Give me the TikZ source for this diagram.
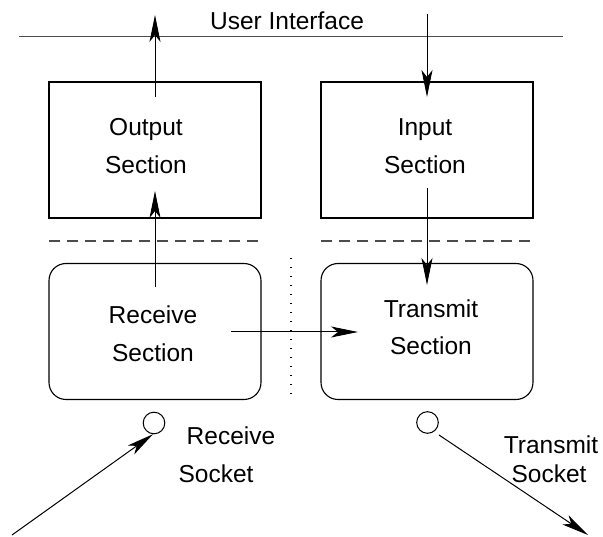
\documentclass[tikz,border=0pt]{standalone}
\usepackage{fontspec}
\setmainfont{Liberation Sans}
\usetikzlibrary{arrows.meta}

\begin{document}
\begin{tikzpicture}[x=1pt, y=-1pt,
  every node/.style={font=\fontsize{24.5}{29}\selectfont},
  label/.style={anchor=base, inner sep=0pt},
  sect/.style={draw, line width=1.1pt, minimum width=212pt, minimum height=136pt, inner sep=0pt},
  roundsect/.style={sect, rounded corners=17pt},
  sock/.style={circle, draw, line width=1pt, minimum size=21.6pt, inner sep=0pt},
  arr/.style={line width=1pt, -{Stealth[length=27pt, width=11pt, inset=7pt]}},
  sep/.style={draw=black!70, line width=1.5pt},
  dashsep/.style={sep, dash pattern=on 11pt off 7pt},
  dotsep/.style={line width=1.3pt, dash pattern=on 1.5pt off 7.5pt}
]
\useasboundingbox (0,0) rectangle (603,537);

% user interface boundary
\draw[sep] (19,36.7) -- (563,36.7);
\node[label] (ui) at (287,29.3) {User Interface};

% upper sections
\node[sect] (out) at (155,150) {};
\node[sect] (inp) at (427,150) {};
\node[label] (outa) at (146,135.7) {Output};
\node[label] (outb) at (146,173.3) {Section};
\node[label] (inpa) at (425,135.7) {Input};
\node[label] (inpb) at (425,173.3) {Section};

% dashed separators
\draw[dashsep] (49,241) -- (261,241);
\draw[dashsep] (321,241) -- (533,241);

% lower sections
\node[roundsect] (rcv) at (155,331.5) {};
\node[roundsect] (xmt) at (427,331.5) {};
\node[label] (rcva) at (153,324) {Receive};
\node[label] (rcvb) at (153,361.7) {Section};
\node[label] (xmta) at (431,317.3) {Transmit};
\node[label] (xmtb) at (431,355) {Section};

% dotted divider
\draw[dotsep] (291,258) -- (291,402);

% sockets
\node[sock] (rsock) at (154,423) {};
\node[sock] (tsock) at (427.5,422.5) {};
\node[label] (rsa) at (231,445) {Receive};
\node[label] (rsb) at (216,482.7) {Socket};
\node[label] (tsa) at (551,453.3) {Transmit};
\node[label] (tsb) at (549,482.7) {Socket};

% arrow end points
\coordinate (outtop) at (155,97);
\coordinate (uiup) at (155,15);
\coordinate (uidown) at (427,14);
\coordinate (inptop) at (427,97);
\coordinate (rcvtop) at (155,287);
\coordinate (outbot) at (155,191);
\coordinate (inpbot) at (427,188);
\coordinate (xmttop) at (427,285);
\coordinate (rcvmid) at (231,332);
\coordinate (xmtmid) at (358,332);
\coordinate (netin) at (12,535);
\coordinate (tstart) at (439,435);
\coordinate (netout) at (588,535);

% data flow
\draw[arr] (outtop) -- (uiup);
\draw[arr] (uidown) -- (inptop);
\draw[arr] (rcvtop) -- (outbot);
\draw[arr] (inpbot) -- (xmttop);
\draw[arr] (rcvmid) -- (xmtmid);
\draw[arr] (netin) -- (rsock.-95);
\draw[arr] (tstart) -- (netout);
\end{tikzpicture}
\end{document}
